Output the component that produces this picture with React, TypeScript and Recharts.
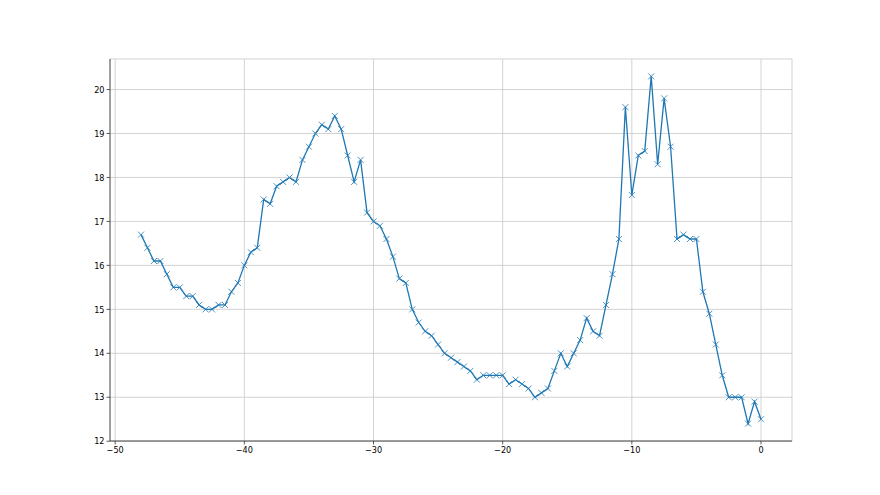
import React from "react";
import { LineChart, Line, XAxis, YAxis, CartesianGrid } from "recharts";

const xStart = -48;
const xStep = 0.5;
const yValues = [
  16.7, 16.4, 16.1, 16.1, 15.8, 15.5, 15.5, 15.3, 15.3, 15.1,
  15.0, 15.0, 15.1, 15.1, 15.4, 15.6, 16.0, 16.3, 16.4, 17.5,
  17.4, 17.8, 17.9, 18.0, 17.9, 18.4, 18.7, 19.0, 19.2, 19.1,
  19.4, 19.1, 18.5, 17.9, 18.4, 17.2, 17.0, 16.9, 16.6, 16.2,
  15.7, 15.6, 15.0, 14.7, 14.5, 14.4, 14.2, 14.0, 13.9, 13.8,
  13.7, 13.6, 13.4, 13.5, 13.5, 13.5, 13.5, 13.3, 13.4, 13.3,
  13.2, 13.0, 13.1, 13.2, 13.6, 14.0, 13.7, 14.0, 14.3, 14.8,
  14.5, 14.4, 15.1, 15.8, 16.6, 19.6, 17.6, 18.5, 18.6, 20.3,
  18.3, 19.8, 18.7, 16.6, 16.7, 16.6, 16.6, 15.4, 14.9, 14.2,
  13.5, 13.0, 13.0, 13.0, 12.4, 12.9, 12.5,
];
const xTicks = [-50, -40, -30, -20, -10, 0];
const yTicks = [12, 13, 14, 15, 16, 17, 18, 19, 20];

const data = yValues.map((y, i) => ({ x: xStart + i * xStep, y }));

const fmt = (v: number) => (v < 0 ? "\u2212" + Math.abs(v) : String(v));

const XDot = (props: any) => {
  const { cx, cy } = props;
  if (cx == null || cy == null) return null;
  const s = 3;
  return (
    <path
      d={`M${cx - s},${cy - s}L${cx + s},${cy + s}M${cx - s},${cy + s}L${cx + s},${cy - s}`}
      stroke="#1f77b4"
      strokeWidth={0.8}
      fill="none"
    />
  );
};

const tickStyle = { fontSize: 9, fill: "#000", fontFamily: "'DejaVu Sans Condensed', 'DejaVu Sans', sans-serif" };
const spine = { stroke: "#333", strokeWidth: 0.8 };

export default function App() {
  return (
    <div style={{ position: "absolute", left: 0, top: 0, width: 880, height: 495, background: "#fff" }}>
      <LineChart
        width={880}
        height={495}
        data={data}
        margin={{ top: 59, right: 88, left: 0, bottom: 0 }}
      >
        <CartesianGrid stroke="#c8c8c8" strokeWidth={0.8} />
        <XAxis
          dataKey="x"
          type="number"
          domain={[-50.4, 2.4]}
          ticks={xTicks}
          tickFormatter={fmt}
          height={54}
          tickSize={3.5}
          tickMargin={2}
          tick={tickStyle}
          axisLine={spine}
          tickLine={spine}
          allowDataOverflow
        />
        <XAxis
          xAxisId="top"
          orientation="top"
          dataKey="x"
          type="number"
          domain={[-50.4, 2.4]}
          height={0}
          tick={false}
          tickLine={false}
          axisLine={spine}
        />
        <YAxis
          type="number"
          domain={[12.005, 20.695]}
          ticks={yTicks}
          width={110}
          tickSize={3.5}
          tickMargin={2}
          tick={tickStyle}
          axisLine={spine}
          tickLine={spine}
          allowDataOverflow
        />
        <YAxis
          yAxisId="right"
          orientation="right"
          type="number"
          domain={[12.005, 20.695]}
          width={0}
          tick={false}
          tickLine={false}
          axisLine={spine}
        />
        <Line
          type="linear"
          dataKey="y"
          stroke="#1f77b4"
          strokeWidth={1.3}
          dot={<XDot />}
          activeDot={false}
          isAnimationActive={false}
        />
      </LineChart>
    </div>
  );
}
